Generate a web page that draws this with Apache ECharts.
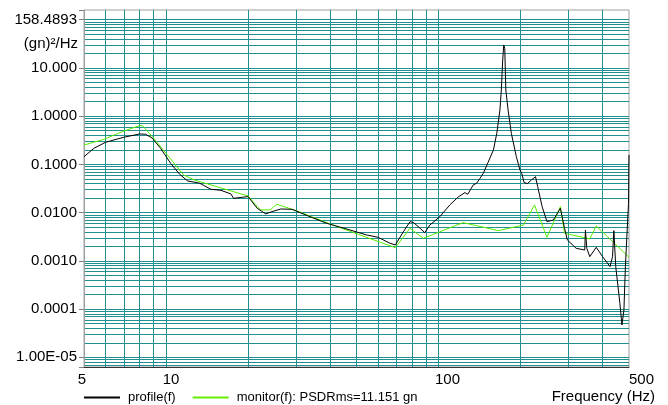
<!DOCTYPE html>
<html>
<head>
<meta charset="utf-8">
<script src="https://cdn.jsdelivr.net/npm/echarts@6/dist/echarts.min.js"></script>
<style>
html, body { margin: 0; padding: 0; background: #fff; }
#chart { width: 668px; height: 405px; }
</style>
</head>
<body>
<div id="chart"></div>
<script>
// profile(f): measured PSD, g^2/Hz
var profileFreq = [5, 5.44, 6.0, 7.0, 8.0, 8.42, 8.9, 9.55, 10.4, 11.2, 12.0, 13.0, 13.3, 14.6, 15.9, 17.3, 17.7,
    20, 21.6, 23.2, 24.5, 26.4, 29, 33.8, 38.9, 47.3, 54.5, 60, 66.3, 69.4, 74.3, 78.6, 81, 85.6, 89, 93,
    101, 110, 118, 125, 128, 134, 138, 142, 146, 152, 159, 163.6, 168, 170, 172, 173.5, 175, 176.6, 180, 185,
    193, 199, 202, 206, 212, 219, 227, 231, 240, 250, 264, 280, 283, 290, 297, 320, 344, 346, 350, 359, 379,
    400, 426, 435, 440, 447, 463, 471, 479, 485, 491, 498, 500];
var profileVal = [0.144, 0.216, 0.287, 0.365, 0.427, 0.42, 0.35, 0.216, 0.105, 0.063, 0.0453, 0.0418, 0.0406, 0.0305, 0.029, 0.0244, 0.0198,
    0.0215, 0.0123, 0.0094, 0.0105, 0.0119, 0.0117, 0.0082, 0.006, 0.00437, 0.00344, 0.00308, 0.00232, 0.00214, 0.00402, 0.0065, 0.0062, 0.00473, 0.00384, 0.00555,
    0.0082, 0.0144, 0.021, 0.026, 0.024, 0.0374, 0.0406, 0.0515, 0.0655, 0.11, 0.199, 0.44, 1.34, 3.48, 14.6, 29.9, 25.5, 3.48, 1.34, 0.44,
    0.144, 0.0766, 0.0655, 0.042, 0.04, 0.0475, 0.0556, 0.035, 0.0133, 0.0065, 0.00704, 0.0123, 0.0114, 0.00473, 0.00271, 0.00182, 0.00168, 0.00437, 0.00182, 0.00122, 0.00191,
    0.00122, 0.00076, 0.00122, 0.00423, 0.00076, 0.000132, 0.0000469, 0.000096, 0.00076, 0.00318, 0.0156, 0.157];

// monitor(f)
var monitorFreq = [5, 5.92, 7.0, 8.0, 8.2, 9.0, 10.0, 11.6, 12.7, 20, 22.2, 24.1, 25.5, 30, 40, 51.5, 69.4, 78.6, 88,
    101, 123, 166, 205, 225, 250, 280, 290, 359, 379, 500];
var monitorVal = [0.252, 0.331, 0.492, 0.634, 0.634, 0.35, 0.17, 0.0603, 0.0475, 0.0221, 0.0114, 0.0114, 0.0149, 0.011, 0.00582, 0.00344, 0.00188, 0.00473, 0.00294,
    0.0040, 0.0062, 0.00423, 0.00555, 0.0144, 0.00308, 0.0133, 0.00373, 0.00286, 0.0053, 0.00119];

var xTickLabels = { '5': '5', '10': '10', '100': '100', '500': '500' };
var yTickLabels = { '2': '158.4893', '1': '10.000', '0': '1.0000', '-1': '0.1000', '-2': '0.0100',
    '-3': '0.0010', '-4': '0.0001', '-5': '1.00E-05' };
var xGridValues = [6, 7, 8, 9, 10, 20, 30, 40, 50, 60, 70, 80, 90, 100, 200, 300, 400];
var yGridMult = [1, 2, 3, 4, 5, 6, 7, 8, 9];

var yMin = Math.pow(10, -5.2), yMax = Math.pow(10, 2.2);
var gridColor = '#1f8f8f';
var font = "'Liberation Sans', Arial, sans-serif";

var yGridValues = [];
for (var d = -6; d <= 2; d++) {
    yGridMult.forEach(function (m) {
        var v = m * Math.pow(10, d);
        if (v > yMin && v < yMax) yGridValues.push(v);
    });
}

function pairs(xs, ys) {
    return xs.map(function (x, i) { return [x, ys[i]]; });
}

var chart = echarts.init(document.getElementById('chart'), null, { renderer: 'canvas' });
chart.setOption({
    animation: false,
    textStyle: { fontFamily: font },
    grid: { left: 84, right: 39, top: 10, bottom: 38, show: true, borderColor: '#a0a0a0', borderWidth: 1 },
    legend: {
        data: ['profile(f)', 'monitor(f): PSDRms=11.151 gn'],
        icon: 'rect', padding: 0,
        left: 84, top: 391, itemWidth: 36, itemHeight: 2, itemGap: 17,
        textStyle: { fontSize: 13, color: '#000', fontFamily: font, padding: [0, 0, 0, 3] }
    },
    xAxis: {
        type: 'log', min: 5, max: 500,
        axisLine: { show: true, lineStyle: { color: '#333' } },
        axisTick: { show: false, customValues: xGridValues },
        splitLine: { show: true, lineStyle: { color: gridColor } },
        axisLabel: {
            margin: 5, fontSize: 15, color: '#000', fontFamily: font,
            alignMinLabel: 'center', alignMaxLabel: 'left',
            formatter: function (v) {
                var k = String(Math.round(v));
                return xTickLabels[k] ? '{l' + k + '|' + xTickLabels[k] + '}' : '';
            },
            rich: {
                l5: { fontSize: 15, padding: [0, 4, 0, 0] },
                l10: { fontSize: 15, padding: [0, 0, 0, 10] },
                l100: { fontSize: 15, padding: [0, 0, 0, 18] },
                l500: { fontSize: 15 }
            }
        }
    },
    yAxis: [
        {
            type: 'log', min: yMin, max: yMax,
            axisLine: { show: true, lineStyle: { color: '#a0a0a0' } },
            axisTick: { show: true, length: 5, lineStyle: { color: '#808080' } },
            splitLine: { show: false },
            axisLabel: {
                margin: 7, fontSize: 15, color: '#000', fontFamily: font,
                formatter: function (v) {
                    var e = Math.log10(v);
                    if (Math.abs(e - Math.round(e)) > 0.01) return '';
                    return yTickLabels[String(Math.round(e))] || '';
                }
            }
        },
        {
            // grid-only axis: split lines at 1..9 x 10^n
            type: 'log', min: yMin, max: yMax, position: 'left',
            axisLine: { show: false },
            axisLabel: { show: false },
            axisTick: { show: false, customValues: yGridValues },
            splitLine: { show: true, lineStyle: { color: gridColor } }
        }
    ],
    graphic: [
        { type: 'text', right: 590, top: 36, style: { text: '(gn)²/Hz', font: '15px ' + font, fill: '#000' } },
        { type: 'text', right: 13, top: 389, style: { text: 'Frequency (Hz)', font: '15px ' + font, fill: '#000' } }
    ],
    series: [
        {
            name: 'monitor(f): PSDRms=11.151 gn', type: 'line', symbol: 'none', z: 3,
            lineStyle: { color: '#55f000', width: 1 }, itemStyle: { color: '#66ee00' },
            data: pairs(monitorFreq, monitorVal)
        },
        {
            name: 'profile(f)', type: 'line', symbol: 'none', z: 4,
            lineStyle: { color: '#000', width: 1 }, itemStyle: { color: '#000' },
            data: pairs(profileFreq, profileVal)
        }
    ]
});
</script>
</body>
</html>
